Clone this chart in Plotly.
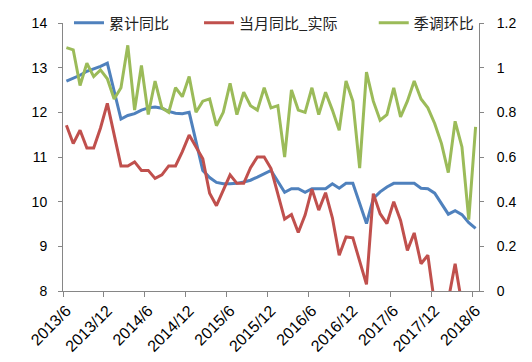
import plotly.graph_objects as go

months = [f"{2013 + (5 + k) // 12}/{(5 + k) % 12 + 1}" for k in range(61)]

cum_yoy = [12.7, 12.77, 12.83, 12.92, 12.97, 13.03, 13.1, None,
           11.85, 11.93, 11.97, 12.05, 12.1, 12.12, 12.09, 12.02, 11.98, 11.97, 12.0, None,
           10.7, 10.54, 10.43, 10.4, 10.4, 10.41, 10.44, 10.48, 10.55, 10.63, 10.7, None,
           10.21, 10.29, 10.29, 10.21, 10.29, 10.29, 10.29, 10.4, 10.3, 10.41, 10.41, None,
           9.51, 10.07, 10.22, 10.33, 10.41, 10.41, 10.41, 10.41, 10.3, 10.29, 10.19, None,
           9.72, 9.8, 9.71, 9.53, 9.4]

month_yoy_real = [11.71, 11.3, 11.6, 11.2, 11.2, 11.65, 12.2, None,
                  10.8, 10.8, 10.89, 10.7, 10.7, 10.52, 10.6, 10.8, 10.8, 11.12, 11.49, None,
                  10.96, 10.19, 9.91, 10.24, 10.6, 10.41, 10.41, 10.76, 11.0, 11.0, 10.74, None,
                  9.61, 9.71, 9.31, 9.7, 10.28, 9.81, 10.2, 9.64, 8.8, 9.21, 9.19, None,
                  8.15, 10.18, 9.73, 9.51, 10.0, 9.58, 8.91, 9.3, 8.61, 8.8, 7.7, None,
                  7.8, 8.61, 7.7, 6.8, 7.3]

sa_mom = [1.09, 1.08, 0.92, 1.02, 0.96, 0.99, 0.95, 0.86, 0.91, 1.10,
          0.81, 1.01, 0.79, 0.94, 0.82, 0.80, 0.91, 0.87, 0.96, 0.80,
          0.85, 0.86, 0.74, 0.80, 0.93, 0.79, 0.89, 0.83, 0.81, 0.91,
          0.82, 0.83, 0.60, 0.90, 0.81, 0.80, 0.91, 0.79, 0.89, 0.81,
          0.72, 0.94, 0.85, 0.55, 0.98, 0.85, 0.765, 0.79, 0.91, 0.78,
          0.85, 0.94, 0.86, 0.82, 0.75, 0.66, 0.53, 0.76, 0.645, 0.32, 0.735]

label_idx = list(range(0, 61, 6))
tick_text = [months[i] for i in label_idx]

idx = list(range(len(months)))

fig = go.Figure()
fig.add_trace(go.Scatter(x=idx, y=cum_yoy, name="累计同比", mode="lines", legend="legend",
                         line=dict(color="#4F81BD", width=3), connectgaps=True))
fig.add_trace(go.Scatter(x=idx, y=month_yoy_real, name="当月同比_实际", mode="lines", legend="legend2",
                         line=dict(color="#C0504D", width=3), connectgaps=True))
fig.add_trace(go.Scatter(x=idx, y=sa_mom, name="季调环比", mode="lines", yaxis="y2", legend="legend3",
                         line=dict(color="#9BBB59", width=3), connectgaps=True))

axis_col = "#868686"
tick_font = dict(family="Liberation Sans, Noto Sans CJK SC", size=14, color="#000000")
x_font = dict(family="Liberation Sans, Noto Sans CJK SC", size=16, color="#000000")
leg_font = dict(family="Noto Sans CJK SC", size=15, color="#222222")


def leg(xpos):
    return dict(orientation="h", x=xpos, xanchor="left", y=1.0, yanchor="middle",
                bgcolor="rgba(0,0,0,0)", font=leg_font)


fig.update_layout(
    width=524, height=354,
    margin=dict(l=55, r=53, t=15, b=71, autoexpand=False),
    paper_bgcolor="white", plot_bgcolor="white",
    showlegend=True,
    legend=leg(0.0144), legend2=leg(0.327), legend3=leg(0.747),
    xaxis=dict(range=[-0.5, 60.5], tickmode="array", tickvals=label_idx, ticktext=tick_text,
               tickangle=-45, ticks="", showgrid=False, zeroline=False, automargin=False,
               showline=True, linecolor=axis_col, linewidth=1, tickfont=x_font,
               ticklabelstandoff=3,
               minor=dict(tickmode="array", tickvals=[i - 0.5 for i in label_idx],
                          ticks="outside", ticklen=5, tickcolor=axis_col, showgrid=False)),
    yaxis=dict(range=[8, 14], dtick=1, tick0=8, ticks="outside", ticklen=4, automargin=False,
               tickcolor=axis_col, showgrid=False, zeroline=False, showline=True,
               linecolor=axis_col, linewidth=1, tickfont=tick_font, ticklabelstandoff=8),
    yaxis2=dict(range=[0, 1.2], dtick=0.2, tick0=0, overlaying="y", side="right", automargin=False,
                ticks="outside", ticklen=4, tickcolor=axis_col, showgrid=False,
                zeroline=False, showline=True, linecolor=axis_col, linewidth=1,
                tickfont=tick_font, ticklabelstandoff=10),
)

fig.write_html("out.html")
